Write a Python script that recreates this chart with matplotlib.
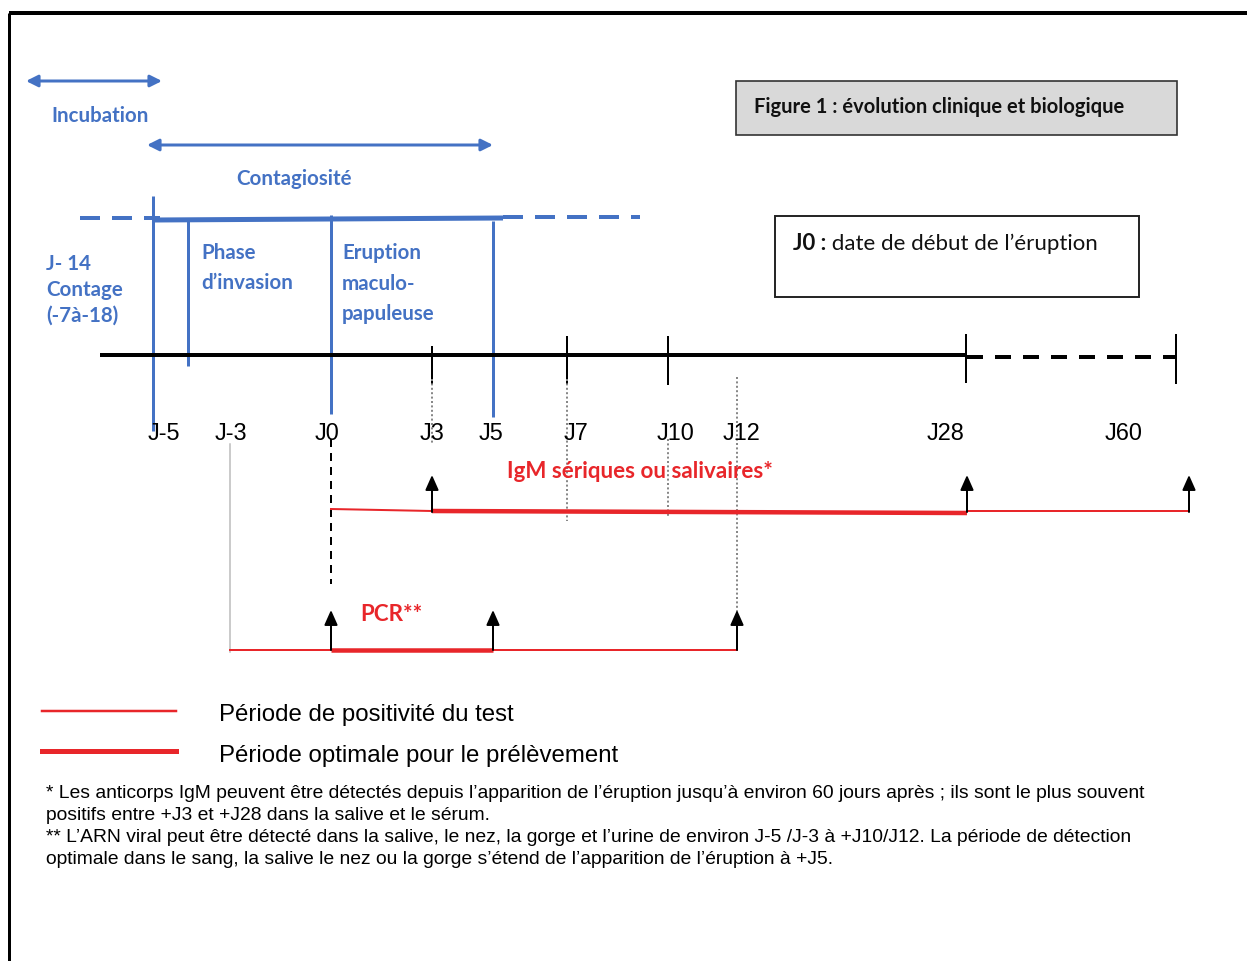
import numpy as np
import matplotlib.pyplot as plt

# jours repères de la frise et position schématique (non linéaire) sur l'axe
days = [-5, -3, 0, 3, 5, 7, 10, 12, 28, 60]
day_x = [153, 230, 331, 432, 493, 567, 668, 737, 967, 1189]
tick_labels = ["J-5", "J-3", "J0", "J3", "J5", "J7", "J10", "J12", "J28", "J60"]
label_x = [164, 231, 327, 432, 491, 576, 675, 741, 946, 1124]

# périodes (en jours)
igm_positive = (0, 60)
igm_optimal = (3, 28)
pcr_positive = (-3, 12)
pcr_optimal = (0, 5)
incubation = (-14, -5)
contagiosite = (-5, 5)

BLUE = "#4472c4"
RED = "#e8262a"
CAL = "Lato"
ARIAL = "Liberation Sans"


def px(d):
    return float(np.interp(d, days, day_x))


def pt(p):
    # pixels -> points (dpi 100)
    return p * 0.72


fig = plt.figure(figsize=(12.47, 9.62), dpi=100)
ax = fig.add_axes([0, 0, 1, 1])
ax.set_xlim(0, 1247)
ax.set_ylim(962, 0)
ax.axis("off")

# cadre
ax.plot([9, 1247], [14, 14], color="black", lw=pt(4), solid_capstyle="butt")
ax.plot([9, 9], [14, 962], color="black", lw=pt(3), solid_capstyle="butt")

# flèches incubation / contagiosité
def double_arrow(x0, x1, y):
    ax.annotate("", xy=(x1, y), xytext=(x0, y),
                arrowprops=dict(arrowstyle="<|-|>,head_length=0.7,head_width=0.35",
                                color=BLUE, lw=pt(3), shrinkA=0, shrinkB=0))

double_arrow(26, 162, 82)
double_arrow(147, px(contagiosite[1]), 146)
ax.text(100, 116, "Incubation", color=BLUE, fontsize=pt(20.5), fontweight="bold",
        family=CAL, ha="center", va="center")
ax.text(294, 179, "Contagiosité", color=BLUE, fontsize=pt(20.5), fontweight="bold",
        family=CAL, ha="center", va="center")

# barre bleue des phases
ax.plot([80, 160], [219, 219], color=BLUE, lw=pt(4), dashes=(5, 3))
ax.plot([155, 503], [221, 219], color=BLUE, lw=pt(5), solid_capstyle="butt")
ax.plot([503, 640], [218, 218], color=BLUE, lw=pt(4), dashes=(5, 3))
for x, y0, y1 in [(px(-5), 197, 432), (188, 222, 367), (px(0), 216, 415), (px(5), 222, 418)]:
    ax.plot([x, x], [y0, y1], color=BLUE, lw=pt(3), solid_capstyle="butt")

blue_txt = [(46, 264, "J- 14"), (46, 290, "Contage"), (46, 316, "(-7à-18)"),
            (201, 253, "Phase"), (201, 283, "d’invasion"),
            (342, 253, "Eruption"), (342, 284, "maculo-"), (342, 314, "papuleuse")]
for x, y, s in blue_txt:
    ax.text(x, y, s, color=BLUE, fontsize=pt(20.5), fontweight="bold", family=CAL,
            ha="left", va="center")

# encadrés
ax.add_patch(plt.Rectangle((736, 82), 441, 54, facecolor="#d9d9d9",
                           edgecolor="#333333", lw=1.2))
ax.text(754, 107, "Figure 1 : évolution clinique et biologique", fontsize=pt(20.2),
        fontweight="bold", family=CAL, ha="left", va="center", color="#111111")
ax.add_patch(plt.Rectangle((775, 217), 364, 81, facecolor="white",
                           edgecolor="#222222", lw=1.4))
t = ax.text(793, 244, "J0 :", fontsize=pt(22.3), fontweight="bold", family=CAL,
            ha="left", va="center", color="#111111")
ax.annotate(" date de début de l’éruption", xycoords=t, xy=(1, 0.5), va="center",
            ha="left", fontsize=pt(22.3), family=CAL, color="#111111")

# axe du temps
ax.plot([100, px(28)], [356, 356], color="black", lw=pt(4), solid_capstyle="butt")
ax.plot([px(28), 1176], [358, 358], color="black", lw=pt(4), dashes=(4, 3))
for x, y0, y1 in [(px(3), 348, 385), (px(7), 338, 385), (px(10), 338, 385),
                  (966, 336, 383), (1176, 336, 384)]:
    ax.plot([x, x], [y0, y1], color="black", lw=pt(2))

# pointillés gris
for x, y0, y1 in [(px(3), 380, 445), (px(7), 380, 522), (px(10), 440, 518),
                  (px(12), 378, 640)]:
    ax.plot([x, x], [y0, y1], color="#888888", lw=pt(2), ls=(0, (1, 1.2)))

for x, s in zip(label_x, tick_labels):
    ax.text(x, 434, s, fontsize=pt(23.5), family=ARIAL, ha="center", va="center")

ax.plot([px(0), px(0)], [440, 585], color="black", lw=pt(2), dashes=(4, 3))
ax.plot([px(-3), px(-3)], [445, 653], color="#bbbbbb", lw=pt(1.5))


def up_arrow(x, y0, y1):
    ax.annotate("", xy=(x, y1), xytext=(x, y0),
                arrowprops=dict(arrowstyle="-|>,head_length=0.9,head_width=0.4",
                                color="black", lw=pt(2), shrinkA=0, shrinkB=0))


# IgM
ax.text(640, 472, "IgM sériques ou salivaires*", color=RED, fontsize=pt(22.4),
        fontweight="bold", family=CAL, ha="center", va="center")
ax.plot([px(igm_positive[0]), px(igm_optimal[0])], [510, 512], color=RED, lw=pt(2))
ax.plot([px(igm_optimal[0]), px(igm_optimal[1])], [512, 514], color=RED, lw=pt(4.5),
        solid_capstyle="butt")
ax.plot([px(igm_optimal[1]), px(igm_positive[1])], [512, 512], color=RED, lw=pt(2))
for d in [igm_optimal[0], igm_optimal[1], igm_positive[1]]:
    up_arrow(px(d), 513, 476)

# PCR
ax.text(360, 615, "PCR**", color=RED, fontsize=pt(22.4), fontweight="bold",
        family=CAL, ha="left", va="center")
ax.plot([px(pcr_positive[0]), px(pcr_optimal[0])], [651, 651], color=RED, lw=pt(2))
ax.plot([px(pcr_optimal[0]), px(pcr_optimal[1])], [651, 651], color=RED, lw=pt(4.5),
        solid_capstyle="butt")
ax.plot([px(pcr_optimal[1]), px(pcr_positive[1])], [651, 651], color=RED, lw=pt(2))
for d in [pcr_optimal[0], pcr_optimal[1], pcr_positive[1]]:
    up_arrow(px(d), 651, 611)

# légende
ax.plot([42, 176], [712, 712], color=RED, lw=pt(2.5))
ax.plot([42, 176], [752, 752], color=RED, lw=pt(5))
ax.text(219, 715, "Période de positivité du test", fontsize=pt(24), family=ARIAL,
        ha="left", va="center")
ax.text(219, 756, "Période optimale pour le prélèvement", fontsize=pt(24),
        family=ARIAL, ha="left", va="center")

notes = [
    "* Les anticorps IgM peuvent être détectés depuis l’apparition de l’éruption jusqu’à environ 60 jours après ; ils sont le plus souvent",
    "positifs entre +J3 et +J28 dans la salive et le sérum.",
    "** L’ARN viral peut être détecté dans la salive, le nez, la gorge et l’urine de environ J-5 /J-3 à +J10/J12. La période de détection",
    "optimale dans le sang, la salive le nez ou la gorge s’étend de l’apparition de l’éruption à +J5.",
]
for i, s in enumerate(notes):
    ax.text(46, 794 + 22 * i, s, fontsize=pt(19.3), family=ARIAL, ha="left",
            va="center")

fig.savefig("out.png", dpi=100)
